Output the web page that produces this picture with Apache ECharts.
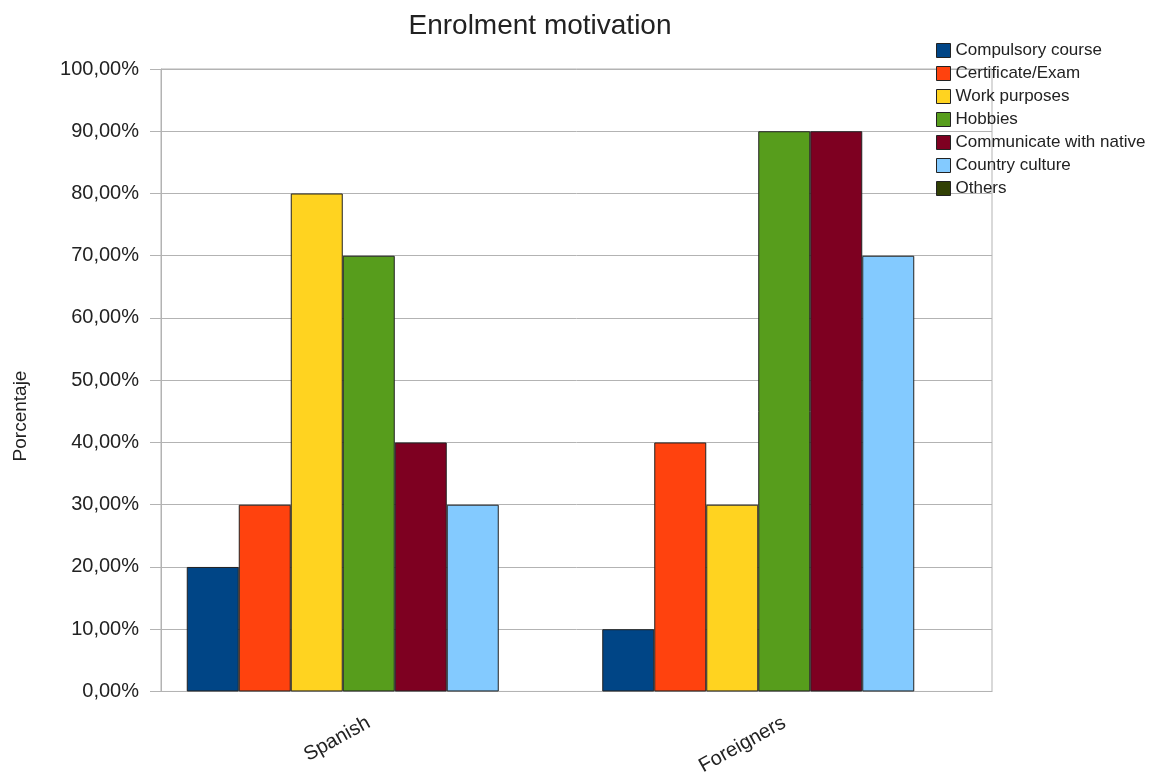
<!DOCTYPE html>
<html>
<head>
<meta charset="utf-8">
<script src="https://cdn.jsdelivr.net/npm/echarts@6/dist/echarts.min.js"></script>
<style>
html,body{margin:0;padding:0;background:#fff;}
#chart{width:1170px;height:778px;}
</style>
</head>
<body>
<div id="chart"></div>
<script>
const categories = ['Spanish', 'Foreigners'];
const seriesNames = ['Compulsory course', 'Certificate/Exam', 'Work purposes', 'Hobbies', 'Communicate with native', 'Country culture', 'Others'];
const compulsory = [20, 10];
const certificate = [30, 40];
const work = [80, 30];
const hobbies = [70, 90];
const communicate = [40, 90];
const culture = [30, 70];
const others = [0, 0];
const colors = ['#004586', '#ff420e', '#ffd320', '#579d1c', '#7e0021', '#83caff', '#314004'];
const allValues = [compulsory, certificate, work, hobbies, communicate, culture, others];

const FONT = '"Liberation Sans", Arial, sans-serif';
const chart = echarts.init(document.getElementById('chart'));
chart.setOption({
  animation: false,
  textStyle: { fontFamily: FONT },
  title: {
    text: 'Enrolment motivation',
    left: 535, top: 7, textAlign: 'center',
    textStyle: { fontFamily: FONT, fontSize: 28, fontWeight: 'normal', color: '#222' }
  },
  legend: {
    orient: 'vertical',
    left: 931, top: 37,
    itemWidth: 14, itemHeight: 14, itemGap: 6,
    icon: 'rect',
    data: seriesNames,
    textStyle: { fontFamily: FONT, fontSize: 17, color: '#222' },
    itemStyle: { borderColor: '#222', borderWidth: 1 }
  },
  grid: {
    left: 161, right: 178, top: 69, bottom: 86,
    show: true, borderColor: '#b3b3b3', borderWidth: 1
  },
  xAxis: {
    type: 'category',
    data: categories,
    axisLine: { lineStyle: { color: '#b3b3b3' } },
    axisTick: { alignWithLabel: true, length: 11, lineStyle: { color: '#b3b3b3' } },
    axisLabel: { rotate: 29, margin: 30, fontSize: 20, color: '#222', fontFamily: FONT }
  },
  yAxis: {
    type: 'value',
    min: 0, max: 100, interval: 10,
    axisLine: { show: true, lineStyle: { color: '#b3b3b3' } },
    axisTick: { show: true, length: 11, lineStyle: { color: '#b3b3b3' } },
    splitLine: { lineStyle: { color: '#b3b3b3' } },
    axisLabel: {
      margin: 22, fontSize: 20, color: '#222', fontFamily: FONT,
      formatter: v => v.toFixed(2).replace('.', ',') + '%'
    }
  },
  graphic: [{
    type: 'text',
    x: 21, y: 416, rotation: Math.PI / 2,
    style: { text: 'Porcentaje', fontSize: 19, fontFamily: FONT, fill: '#222', align: 'center', verticalAlign: 'middle' }
  }],
  series: seriesNames.map((n, i) => ({
    name: n,
    type: 'bar',
    data: allValues[i],
    barWidth: 52,
    barGap: '0%',
    itemStyle: { color: colors[i], borderColor: '#222', borderWidth: i === 6 ? 0 : 1 }
  }))
});
</script>
</body>
</html>
